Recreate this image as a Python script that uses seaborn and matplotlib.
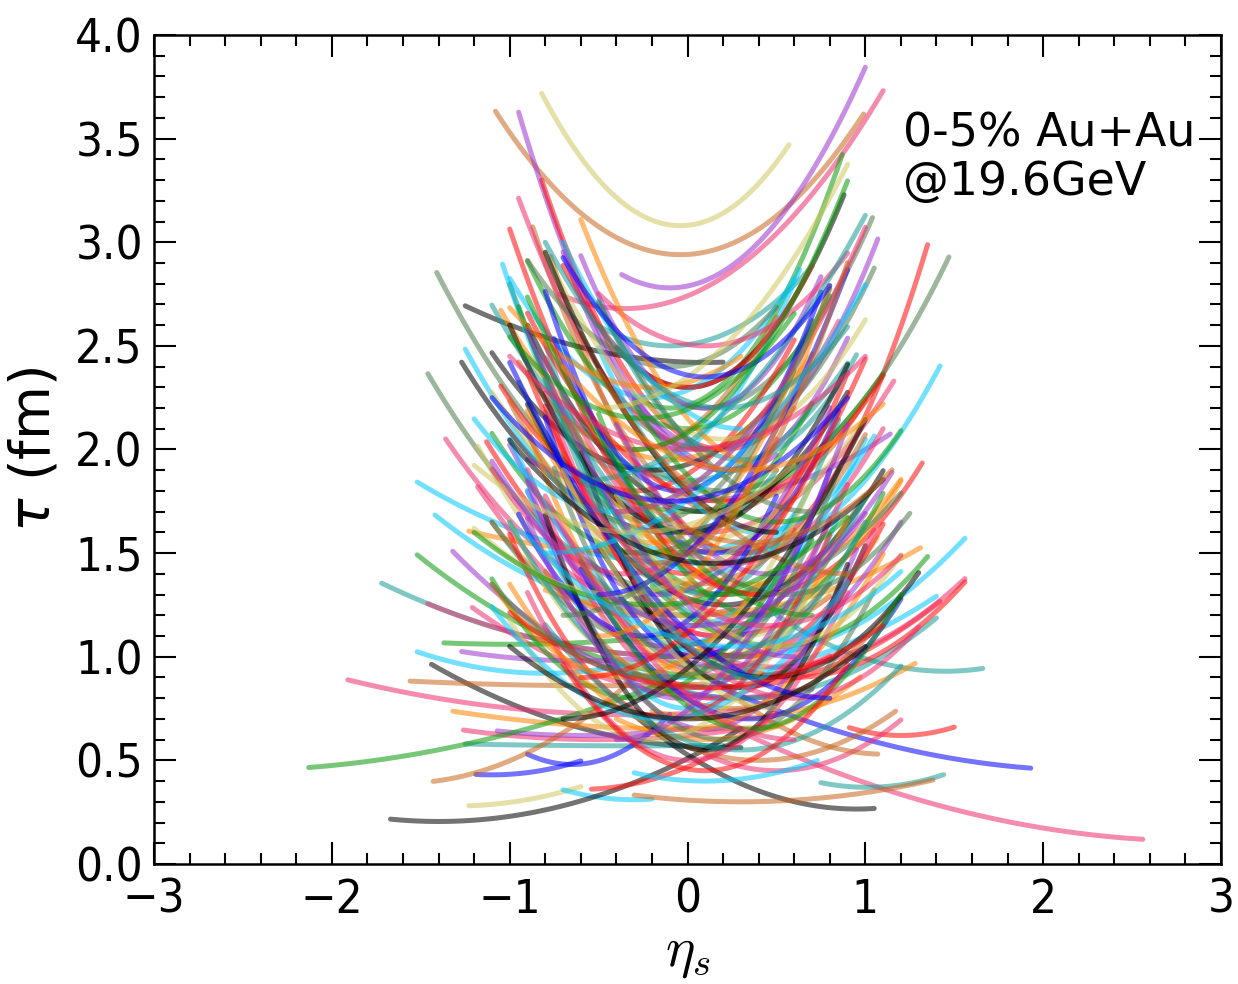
import numpy as np
import pandas as pd
import matplotlib
matplotlib.use("Agg")
import matplotlib.pyplot as plt
import seaborn as sns
from matplotlib.ticker import MultipleLocator

# Colour set cycled over the strings (drawn semi-transparent)
string_colors = ["#d0c860", "#c8641e", "#9932cc", "#ed2e6d", "#0a9a0a", "#ff0a0a",
                 "#0000ff", "#00c8ff", "#000000", "#189c98", "#4f7a4f", "#ff8400"]

# Each string in the (eta_s, tau) plane: vertex position, curvature and eta_s extent
eta_vertex = [-0.04, -0.04, -0.1, -0.35, 0.25, 0.2, 0.2, 0.3, -0.1, 0.0, 0.1, 0.15, 0.1, 0.3, 0.2, 0.3,
              -0.1, 0.1, 0.1, 0.0, -0.1, 0.0, 0.0, 0.1, 0.2, 0.0, 0.0, 0.3, -0.2, 0.2, 0.3, 0.0,
              0.0, 0.2, -1.0, -0.8, -0.6, 0.2, -0.5, -0.3, 0.0, -0.5, -0.6, -0.3, -2.6, -1.1, -0.65, -1.6,
              -1.3, -0.3, -1.4, 0.95, -0.6, 2.9, 2.3, 1.45, 0.3, 1.2, 0.5, 0.4, 1.1, 1.01, 0.3, 0.1,
              0.2, 0.1, 0.2, 0.0, 0.3, 0.5, 0.0, 0.6, 0.1, 0.0, 0.4, 0.3, 0.2, 0.0, 0.3, 0.5,
              -0.3, 0.1, 0.0, 0.2, -0.2,
              -0.2, 0.0, 0.1, -0.1, 0.2, 0.0, -0.3, 0.3, 0.1, -0.2, 0.4, 0.0, 0.15, -0.25, 0.25, 0.0,
              0.35, -0.15, 0.1, 0.2, -0.3, 0.4, 0.0, 0.15, -0.1, 0.3, 0.05, -0.2, 0.2, 0.1, 0.0, 0.3,
              -0.3, 0.15, 0.0, 0.25, -0.1, 0.35, 0.1, 0.0, 0.2, -0.2, 0.1, 0.3, 0.0, 0.0, -0.1, 0.1,
              0.2, -0.3, 0.3, -0.05, 0.2, -0.4, 0.5, 0.0, -0.2, 0.45, -0.35, 0.05, 0.25, -0.25, 0.5, 0.05,
              -0.35, 0.45, -0.05, 0.35, -0.15, 0.6, 0.1, -0.4, 0.55, 0.1, -0.2,
              0.4, 0.6, 0.5, 0.8, 0.5, 0.7, 0.3, 0.6, 0.9, 0.4, 0.7, 0.5,
              -0.5, -0.6, -0.4, -0.7, -0.3, -0.5, -0.8, -0.4, -0.6, -0.2, -0.5, -0.7,
              -0.1, 0.15, -0.2, 0.25, 0.0, 0.1, -0.3, 0.3, 0.05, 0.2, -0.15, 0.35, 0.0, 0.1, -0.25, 0.45]
tau_vertex = [3.08, 2.94, 2.78, 2.68, 1.9, 2.0, 1.7, 1.5, 2.2, 2.3, 2.2, 2.0, 2.0, 1.5, 1.8, 1.5,
              2.5, 2.42, 1.6, 1.3, 1.6, 1.5, 1.2, 1.0, 1.1, 1.45, 1.2, 0.9, 1.5, 0.9, 0.8, 1.0,
              1.0, 0.8, 1.06, 0.92, 0.98, 0.56, 0.86, 0.72, 0.65, 0.6, 0.62, 0.57, 0.45, 0.43, 0.48, 0.39,
              0.28, 0.31, 0.205, 0.265, 0.36, 0.11, 0.45, 0.93, 0.8, 0.62, 0.45, 0.5, 0.53, 0.37, 0.3, 0.4,
              0.7, 0.6, 0.85, 0.9, 1.0, 0.95, 1.2, 0.9, 1.6, 1.7, 1.3, 1.2, 1.3, 1.75, 1.1, 1.05,
              1.9, 1.4, 1.6, 1.3, 1.9,
              2.25, 2.1, 2.0, 1.95, 1.9, 1.85, 1.8, 1.75, 1.7, 1.65, 1.6, 1.55, 1.5, 1.5, 1.45, 1.4,
              1.35, 1.3, 1.3, 1.25, 1.2, 1.2, 1.15, 1.1, 1.05, 1.0, 1.0, 0.95, 0.95, 0.9, 0.85, 0.85,
              0.8, 0.8, 0.75, 0.75, 0.7, 0.7, 0.65, 0.65, 0.6, 0.6, 0.55, 0.55, 0.5, 2.3, 2.4, 2.2,
              2.05, 2.0, 1.95, 1.8, 1.75, 1.7, 1.65, 1.6, 1.55, 1.4, 1.4, 1.35, 1.15, 1.1, 1.05, 0.95,
              0.9, 0.9, 0.8, 0.65, 0.7, 0.8, 0.45, 1.3, 1.3, 2.5, 2.3,
              1.3, 1.0, 1.6, 0.8, 1.9, 1.2, 2.1, 0.6, 1.4, 0.9, 1.7, 0.75,
              1.3, 0.9, 1.7, 0.7, 2.0, 1.1, 1.5, 0.6, 1.85, 1.45, 2.2, 1.2,
              1.75, 1.45, 1.25, 1.05, 2.0, 0.85, 1.6, 1.9, 1.15, 2.2, 0.9, 1.55, 0.7, 2.35, 2.15, 1.15]
curvature = [1.05, 0.64, 0.88, 0.5, 1.2, 1.25, 1.2, 1.25, 1.3, 1.2, 1.04, 1.2, 0.97, 1.35, 0.7, 0.72,
             0.6, 0.15, 0.55, 0.5, 0.6, 0.63, 0.46, 0.62, 0.53, 0.17, 0.24, 0.42, 0.1, 0.2, 0.27, 0.12,
             0.12, 0.22, 0.05, 0.2, 0.1, 0.15, 0.02, 0.065, 0.05, 0.08, 0.1, 0.01, 0.07, 0.27, 0.8, 0.3,
             0.19, 0.3, 0.155, 0.29, 0.3, 0.078, 0.09, 0.3, 0.32, 0.45, 0.5, 0.4, 0.4, 0.33, 0.09, 0.25,
             0.23, 0.4, 0.28, 0.2, 0.36, 0.38, 0.19, 0.5, 0.65, 0.55, 0.75, 0.8, 0.49, 0.25, 0.8, 0.6,
             1.12, 1.15, 1.2, 1.05, 0.7,
             0.9, 1.0, 1.1, 0.8, 1.3, 0.7, 0.9, 1.0, 0.9, 1.2, 1.1, 0.6, 1.4, 0.8, 0.9, 1.2,
             0.7, 1.0, 1.5, 0.8, 0.7, 1.2, 0.9, 1.3, 0.6, 1.0, 1.6, 1.1, 0.7, 1.2, 0.8, 1.4,
             0.9, 1.0, 1.3, 0.6, 1.1, 0.8, 1.2, 0.7, 1.0, 0.9, 1.4, 0.5, 1.0, 1.2, 0.8, 1.5,
             0.9, 1.0, 1.2, 1.5, 0.75, 0.7, 0.9, 1.0, 1.3, 1.0, 0.9, 0.8, 1.1, 1.2, 0.9, 1.5,
             0.8, 0.7, 1.2, 0.9, 0.6, 0.7, 0.8, 0.5, 0.8, 0.7, 0.6,
             0.9, 0.7, 0.8, 0.5, 1.0, 0.6, 0.9, 0.6, 0.5, 1.0, 0.7, 0.8,
             0.8, 0.6, 0.7, 0.5, 0.9, 1.0, 0.4, 0.9, 0.5, 1.2, 0.6, 0.7,
             0.5, 0.45, 0.35, 0.4, 0.45, 0.3, 0.4, 0.5, 0.6, 0.8, 0.5, 0.55, 0.35, 0.9, 0.7, 0.6]
eta_lo = [-0.82, -1.08, -0.37, -0.72, -0.95, -0.82, -0.87, -0.77, -0.3, -0.4, -0.2, -0.3, -0.3, -0.1, -0.2, 0.1,
          -0.5, -1.25, -1.41, -1.46, -1.27, -1.25, -1.36, -1.18, -1.13, -1.52, -1.42, -1.18, -1.23, -1.52, -1.32, -1.72,
          -1.46, -1.21, -1.37, -1.52, -1.27, -1.44, -1.56, -1.91, -1.32, -1.26, -1.07, -1.25, -2.13, -1.19, -0.9, -1.43,
          -1.23, -0.7, -1.67, -0.3, -0.54, 0.0, 0.2, 0.5, 0.0, 0.91, 0.1, 0.0, 0.3, 0.75, -0.3, -0.3,
          -0.2, -0.4, -0.3, -0.5, -0.2, 0.0, -0.8, 0.1, -0.4, -0.5, -0.3, -0.4, -0.5, -0.9, -0.4, -0.2,
          -0.8, -1.04, -1.0, -0.95, -1.1,
          -1.0, -0.9, -0.95, -1.05, -0.7, -1.1, -1.05, -0.6, -0.9, -0.95, -0.5, -1.1, -0.8, -1.1, -0.8, -0.9,
          -0.7, -1.0, -0.8, -0.9, -1.1, -0.5, -1.0, -0.8, -1.1, -0.8, -0.8, -1.0, -0.9, -0.9, -1.0, -0.6,
          -1.1, -0.9, -0.9, -0.8, -1.0, -0.6, -0.9, -1.0, -0.7, -1.0, -0.8, -0.8, -0.9, -0.7, -0.9, -0.6,
          -0.8, -0.95, -0.5, -0.75, -0.9, -1.2, -0.3, -1.0, -0.9, -0.4, -1.1, -1.0, -0.7, -0.95, -0.4, -0.75,
          -1.1, -0.5, -0.9, -0.6, -1.1, -0.3, -0.7, -1.2, -0.3, -0.5, -1.0,
          -1.0, -0.9, -0.8, -1.0, -0.6, -0.9, -0.7, -0.8, -0.5, -0.8, -0.5, -0.7,
          -0.5, -0.6, -0.4, -0.7, -0.3, -0.5, -0.8, -0.4, -0.6, -0.2, -0.5, -0.7,
          -1.1, -1.0, -1.2, -0.9, -1.0, -1.0, -1.2, -0.7, -1.1, -0.8, -1.1, -0.7, -1.0, -0.7, -1.0, -0.6]
eta_hi = [0.57, 0.99, 1.0, 1.1, 0.5, 0.6, 0.5, 0.6, 0.87, 0.88, 1.04, 1.07, 1.05, 1.35, 1.47, 1.42,
          0.7, 0.2, -0.2, -0.1, 0.3, 0.4, 0.5, 0.6, 0.8, 0.5, 0.3, 0.8, 0.5, 0.6, 0.7, 0.3,
          0.4, 0.7, 0.0, 0.2, 0.2, 0.3, 0.1, 0.4, 0.5, 0.3, 0.0, 0.2, 0.0, -0.6, -0.1, -0.3,
          -0.6, -0.2, 0.3, 1.05, 0.5, 2.56, 1.93, 1.66, 1.4, 1.5, 1.2, 1.17, 1.07, 1.44, 1.38, 0.73,
          1.28, 0.97, 1.42, 1.4, 1.56, 1.56, 1.31, 1.56, 1.16, 1.1, 1.32, 1.2, 1.2, 1.14, 1.07, 1.35,
          0.63, 0.6, 0.5, 0.7, 0.5,
          0.6, 0.8, 0.85, 0.7, 0.9, 0.9, 0.6, 1.0, 0.9, 0.7, 1.05, 1.0, 0.85, 0.7, 1.1, 0.9,
          1.2, 0.8, 0.85, 1.1, 0.6, 1.1, 1.0, 0.9, 1.0, 1.1, 0.8, 0.7, 1.2, 0.9, 1.0, 1.0,
          0.6, 1.05, 0.85, 1.2, 0.8, 1.2, 0.95, 1.1, 1.05, 0.7, 0.9, 1.2, 0.9, 0.7, 0.5, 0.75,
          1.0, 0.5, 0.95, 0.75, 1.1, 0.4, 1.2, 0.9, 0.6, 1.15, 0.5, 1.0, 1.0, 0.5, 1.2, 0.85,
          0.4, 1.3, 0.8, 1.2, 0.9, 1.3, 0.9, 0.5, 1.25, 0.9, 0.3,
          0.4, 0.6, 0.5, 0.8, 0.5, 0.7, 0.3, 0.6, 0.9, 0.4, 0.7, 0.5,
          0.9, 1.0, 1.0, 1.0, 0.9, 0.8, 1.0, 0.9, 1.0, 0.9, 0.9, 0.8,
          0.9, 1.1, 0.9, 1.2, 1.0, 1.1, 0.6, 1.1, 1.0, 0.9, 0.8, 1.15, 1.0, 0.8, 0.6, 1.2]
color_id = [0, 1, 2, 3, 2, 5, 1, 1, 4, 8, 10, 2, 10, 5, 10, 7,
            9, 8, 10, 10, 8, 7, 3, 0, 5, 7, 7, 3, 11, 4, 2, 9,
            3, 3, 4, 7, 2, 8, 1, 3, 11, 3, 2, 9, 4, 6, 6, 1,
            0, 7, 8, 8, 5, 3, 6, 9, 9, 5, 3, 1, 1, 9, 1, 7,
            11, 11, 5, 7, 7, 3, 11, 5, 3, 4, 5, 11, 10, 2, 0, 4,
            7, 7, 9, 4, 8,
            7, 4, 3, 11, 2, 9, 5, 1, 8, 10, 7, 0, 6, 4, 3, 5,
            11, 2, 9, 8, 1, 4, 7, 3, 10, 5, 6, 0, 2, 11, 9, 8,
            4, 3, 7, 1, 5, 6, 2, 11, 10, 0, 8, 9, 3, 5, 10, 2,
            0, 1, 9, 6, 5, 7, 4, 8, 11, 2, 3, 1, 9, 6, 0, 10,
            11, 8, 2, 4, 7, 3, 5, 0, 10, 3, 11,
            5, 2, 8, 6, 11, 4, 7, 3, 1, 9, 10, 0,
            6, 5, 3, 8, 4, 11, 7, 2, 9, 1, 0, 10,
            6, 8, 4, 7, 3, 5, 0, 11, 2, 9, 10, 1, 8, 6, 4, 3]

x_ticks = [-3, -2, -1, 0, 1, 2, 3]
y_ticks = [0.0, 0.5, 1.0, 1.5, 2.0, 2.5, 3.0, 3.5, 4.0]
label_text = "0-5% Au+Au\n@19.6GeV"

# Sample every string along its eta_s extent
frames = []
for i in range(len(eta_vertex)):
    eta = np.linspace(eta_lo[i], eta_hi[i], 80)
    tau = tau_vertex[i] + curvature[i] * (eta - eta_vertex[i]) ** 2
    frames.append(pd.DataFrame({"eta": eta, "tau": tau, "sid": i}))
strings = pd.concat(frames, ignore_index=True)
pal = {i: string_colors[color_id[i]] for i in range(len(eta_vertex))}

sns.set_style("ticks")
plt.rcParams["font.family"] = ["DejaVu Sans"]
plt.rcParams["mathtext.fontset"] = "dejavusans"
for key in ["text.color", "axes.labelcolor", "xtick.color", "ytick.color", "axes.edgecolor"]:
    plt.rcParams[key] = "black"

fig = plt.figure(figsize=(12.38, 9.84), dpi=100)
ax = fig.add_axes([0.1244, 0.122, 0.8619, 0.8424])

sns.lineplot(data=strings, x="eta", y="tau", hue="sid", palette=pal,
             estimator=None, sort=False, legend=False, ax=ax,
             linewidth=3.6, alpha=0.55)

ax.set_xlim(-3, 3)
ax.set_ylim(0, 4)
ax.set_xticks(x_ticks)
ax.set_yticks(y_ticks)
ax.xaxis.set_minor_locator(MultipleLocator(0.2))
ax.yaxis.set_minor_locator(MultipleLocator(0.1))
ax.tick_params(which="both", direction="in", top=True, right=True, width=1.5,
               labelsize=34, colors="black")
ax.tick_params(axis="y", pad=8)
ax.tick_params(axis="x", pad=10)
ax.tick_params(which="major", length=16)
ax.tick_params(which="minor", length=8)
for s in ax.spines.values():
    s.set_linewidth(1.8)
    s.set_color("black")
for lab in ax.get_xticklabels() + ax.get_yticklabels():
    lab.set_fontstretch("condensed")

ax.set_xlabel(r"$\eta_s$", fontsize=40, math_fontfamily="cm", labelpad=2)
ax.set_ylabel(r"$\tau$ (fm)", fontsize=40, labelpad=10)
ax.text(1.21, 3.63, label_text, fontsize=33, ha="left", va="top", linespacing=1.1)

fig.savefig("out.png", dpi=100)
